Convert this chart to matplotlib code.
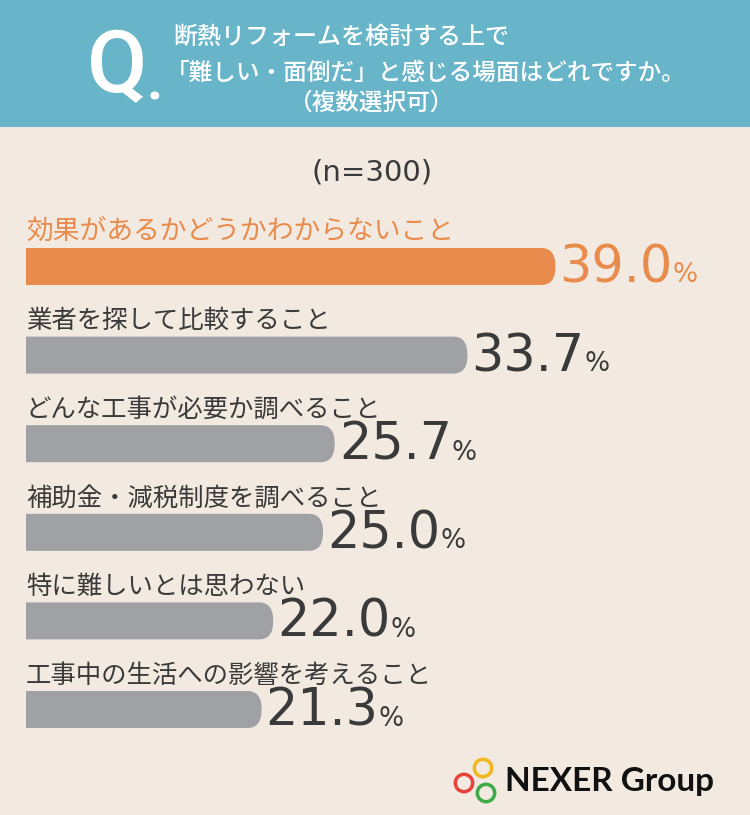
import matplotlib
matplotlib.use('Agg')
import matplotlib.pyplot as plt
from matplotlib.patches import FancyBboxPatch, Rectangle, Circle

# data
labels = [
    '効果があるかどうかわからないこと',
    '業者を探して比較すること',
    'どんな工事が必要か調べること',
    '補助金・減税制度を調べること',
    '特に難しいとは思わない',
    '工事中の生活への影響を考えること',
]
values = [39.0, 33.7, 25.7, 25.0, 22.0, 21.3]
title_lines = ['断熱リフォームを検討する上で',
               '「難しい・面倒だ」と感じる場面はどれですか。',
               '（複数選択可）']
sample_note = '(n=300)'

BG = '#F2EAE0'
TEAL = '#68B5C9'
ORANGE = '#E98B4C'
GRAY = '#A0A1A5'
DARK = '#3A3A3A'
JP = ['Noto Sans CJK JP', 'DejaVu Sans']
NUM = ['DejaVu Sans']

W, H = 750, 815
fig = plt.figure(figsize=(W / 100, H / 100), dpi=100)
fig.patch.set_facecolor(BG)

# background / decoration axes in pixel units
bg = fig.add_axes([0, 0, 1, 1])
bg.set_xlim(0, W)
bg.set_ylim(H, 0)
bg.axis('off')
bg.add_patch(Rectangle((0, 0), W, 127, color=TEAL, lw=0))

bg.text(87, 92, 'Q', color='white', fontsize=63, fontweight='medium',
        family=['Roboto', 'DejaVu Sans'], ha='left', va='baseline')
bg.text(147, 100, '.', color='white', fontsize=40, fontweight='bold',
        family=['Roboto', 'DejaVu Sans'], ha='left', va='baseline')

bg.text(173, 37, title_lines[0], color='white', fontsize=17.3, family=JP,
        fontweight='medium', ha='left', va='center')
bg.text(166, 73, title_lines[1], color='white', fontsize=17, family=JP,
        fontweight='medium', ha='left', va='center')
bg.text(372, 103, title_lines[2], color='white', fontsize=17, family=JP,
        fontweight='medium', ha='center', va='center')

bg.text(372, 173, sample_note, color=DARK, fontsize=21, family=NUM,
        ha='center', va='center')

# logo
for (cx, cy, col) in [(483, 768, '#F2B620'), (464, 783, '#E8433A'), (486, 793, '#3EAA4A')]:
    bg.add_patch(Circle((cx, cy), 8.7, fill=False, ec=col, lw=2.5))
bg.text(505, 781, 'NEXER Group', color='#111111', fontsize=24, fontweight='bold',
        family=['Lato', 'DejaVu Sans'], ha='left', va='center')

# bar axes: x in %, y in pixel rows
px_per_pct = 16.6
origin_px = -92
left_px = 26
ax = fig.add_axes([left_px / W, 0, 1 - left_px / W, 1])
ax.set_xlim((left_px - origin_px) / px_per_pct, (W - origin_px) / px_per_pct)
ax.set_ylim(H, 0)
ax.axis('off')
ax.patch.set_alpha(0)

row0, step, bar_h = 266.5, 88.6, 37
for i, (lab, v) in enumerate(zip(labels, values)):
    yc = row0 + i * step
    col = ORANGE if i == 0 else GRAY
    tcol = ORANGE if i == 0 else DARK
    bar = FancyBboxPatch((0, yc - bar_h / 2), v, bar_h,
                         boxstyle='round,pad=0,rounding_size=0.85',
                         mutation_aspect=21, fc=col, ec='none')
    ax.add_patch(bar)
    ax.text(ax.get_xlim()[0], yc - 34, lab, color=tcol,
            fontsize=19.3 if i == 0 else 18.3, family=JP,
            ha='left', va='center')
    num = ax.annotate(f'{v:.1f}', xy=(v, yc + 16), xytext=(3, 0),
                      textcoords='offset points', color=tcol, fontsize=36.5,
                      family=NUM, ha='left', va='baseline')
    ax.annotate('%', xy=(1, yc + 16), xycoords=(num, 'data'), xytext=(0, 0),
                textcoords='offset points', color=tcol, fontsize=19,
                family=NUM, ha='left', va='baseline')

fig.savefig('out.png', dpi=100, facecolor=BG)
